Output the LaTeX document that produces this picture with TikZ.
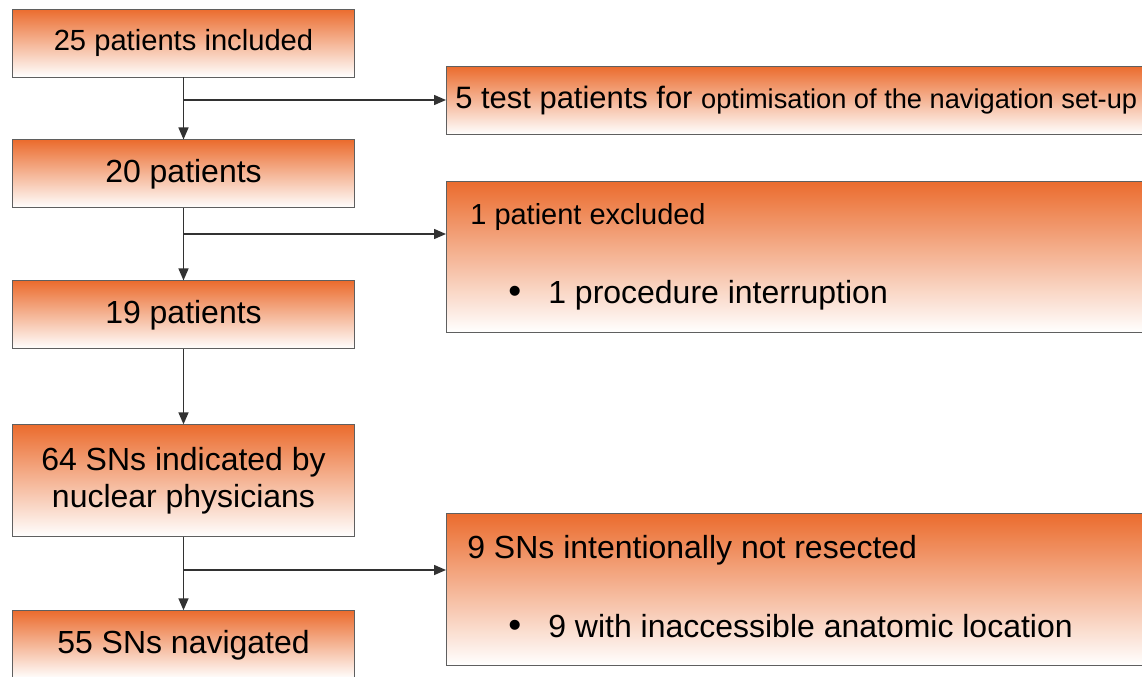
\documentclass[tikz,border=0pt]{standalone}
\usepackage{fontspec}
\setmainfont{Liberation Sans}
\usetikzlibrary{arrows.meta, positioning}

\definecolor{flowOrange}{RGB}{235,108,46}
\definecolor{flowEdge}{RGB}{95,95,95}
\definecolor{flowLine}{RGB}{50,50,50}

\tikzset{
  flowbox/.style={draw=flowEdge, line width=0.55pt, top color=flowOrange, bottom color=white,
    minimum width=6.86cm, minimum height=1.36cm, inner sep=0pt, align=center,
    font=\fontsize{18.2pt}{21pt}\selectfont},
  sidebox/.style={flowbox, anchor=north west, minimum width=14.4cm},
  sidetext/.style={anchor=base west, inner sep=0pt, font=\fontsize{18.2pt}{21pt}\selectfont},
  flowarrow/.style={draw=flowLine, line width=0.85pt, -{Triangle[length=0.24cm, width=0.2cm]}},
}

\begin{document}
\begin{tikzpicture}[x=0.02cm, y=-0.02cm]
  \useasboundingbox (0,0) rectangle (1142,676);
  \clip (0,0) rectangle (1142,676);

  % main column
  \node[flowbox, font=\fontsize{16.6pt}{20pt}\selectfont] (incl) at (183.5,43) {25 patients included};
  \node[flowbox] (twenty) [below=1.24cm of incl] {20 patients};
  \node[flowbox] (nineteen) [below=1.44cm of twenty] {19 patients};
  \node[flowbox, minimum height=2.24cm] (indic) [below=1.5cm of nineteen] {64 SNs indicated by\\nuclear physicians};
  \node[flowbox] (navig) [below=1.46cm of indic] {55 SNs navigated};

  % side boxes
  \node[sidebox] (test) at (446,66) {};
  \node[sidebox, minimum height=3.02cm] (excl) at (446,181) {};
  \node[sidebox, minimum height=3.04cm] (notres) at (446,513) {};

  \node[sidetext, font=\fontsize{17.6pt}{21pt}\selectfont] (testtxt) at (455,108)
    {5 test patients for {\fontsize{15.5pt}{18pt}\selectfont optimisation of the navigation set-up}};
  \node[sidetext, font=\fontsize{16.5pt}{20pt}\selectfont] (excltxt) at (470,224) {1 patient excluded};
  \node[sidetext, font=\fontsize{21pt}{21pt}\selectfont] (exclbul) at (508,303) {\textbullet};
  \node[sidetext] (exclitem) at (548,303) {1 procedure interruption};
  \node[sidetext] (notrestxt) at (467,558) {9 SNs intentionally not resected};
  \node[sidetext, font=\fontsize{21pt}{21pt}\selectfont] (notresbul) at (508,637) {\textbullet};
  \node[sidetext] (notresitem) at (548,637) {9 with inaccessible anatomic location};

  % split points on the trunk
  \coordinate (split1) at (183.5,100);
  \coordinate (split2) at (183.5,234);
  \coordinate (split3) at (183.5,570);

  \draw[flowarrow] (incl) -- (twenty);
  \draw[flowarrow] (twenty) -- (nineteen);
  \draw[flowarrow] (nineteen) -- (indic);
  \draw[flowarrow] (indic) -- (navig);
  \draw[flowarrow] (split1) -- (split1 -| test.west);
  \draw[flowarrow] (split2) -- (split2 -| excl.west);
  \draw[flowarrow] (split3) -- (split3 -| notres.west);
\end{tikzpicture}
\end{document}
